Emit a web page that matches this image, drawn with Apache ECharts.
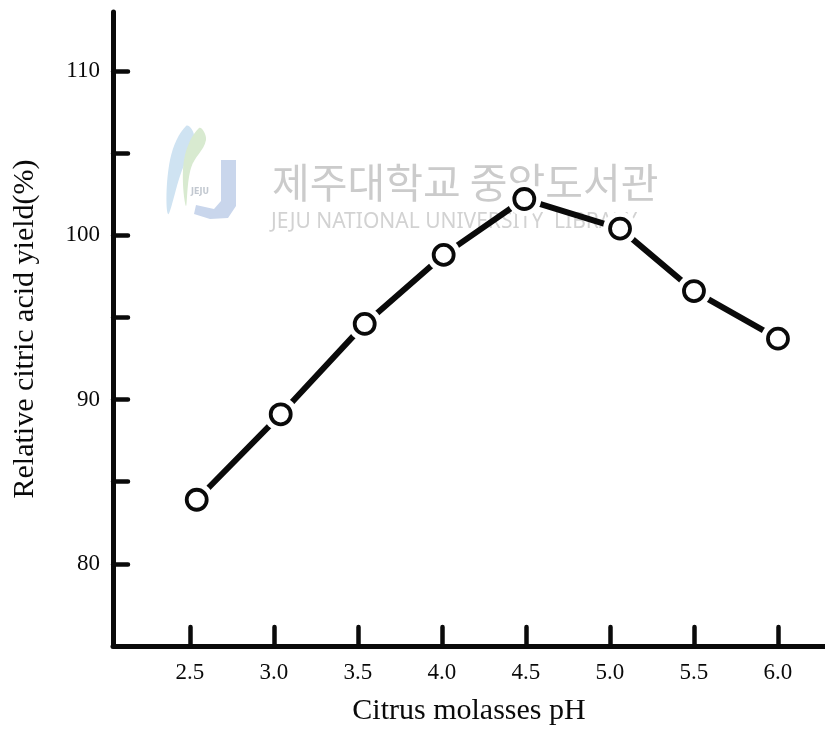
<!DOCTYPE html>
<html>
<head>
<meta charset="utf-8">
<title>Citric acid yield vs citrus molasses pH</title>
<script src="https://cdn.jsdelivr.net/npm/echarts@6/dist/echarts.min.js"></script>
<style>
  html, body { margin: 0; padding: 0; background: #ffffff; }
  #chart { width: 825px; height: 731px; }
</style>
</head>
<body>
<div id="chart"></div>
<script>
// Measured pH of each molasses sample and the relative citric acid yield (%)
const phValues = [2.54, 3.04, 3.54, 4.01, 4.49, 5.06, 5.5, 6.0];
const relativeYield = [83.9, 89.1, 94.6, 98.8, 102.2, 100.4, 96.6, 93.7];

// Axis ticks and labels
const xTickValues = [2.5, 3.0, 3.5, 4.0, 4.5, 5.0, 5.5, 6.0];
const yTickValues = [80, 85, 90, 95, 100, 105, 110];
const yLabelValues = [80, 90, 100, 110];

const xAxisTitle = 'Citrus molasses pH';
const yAxisTitle = 'Relative citric acid yield(%)';

const points = phValues.map((p, i) => [p, relativeYield[i]]);

const serif = '"Liberation Serif", "DejaVu Serif", serif';
const ink = '#0a0a0a';

const chart = echarts.init(document.getElementById('chart'), null, { renderer: 'canvas' });

chart.setOption({
  backgroundColor: '#ffffff',
  animation: false,
  grid: { left: 113, right: 0, top: 12, bottom: 84 },
  xAxis: {
    type: 'value',
    min: 2.0417,
    max: 6.28,
    splitLine: { show: false },
    axisLine: { show: true, onZero: false, lineStyle: { color: ink, width: 5, cap: 'round' } },
    axisTick: {
      show: true, inside: true, length: 19,
      customValues: xTickValues,
      lineStyle: { color: ink, width: 4.5, cap: 'round' }
    },
    axisLabel: {
      show: true, margin: 15,
      customValues: xTickValues,
      formatter: v => v.toFixed(1),
      fontFamily: serif, fontSize: 23, color: ink
    },
    name: xAxisTitle,
    nameLocation: 'middle',
    nameGap: 50,
    nameTextStyle: { fontFamily: serif, fontSize: 30, color: ink }
  },
  yAxis: {
    type: 'value',
    min: 75,
    max: 113.58,
    splitLine: { show: false },
    axisLine: { show: true, onZero: false, lineStyle: { color: ink, width: 5, cap: 'round' } },
    axisTick: {
      show: true, inside: true, length: 15,
      customValues: yTickValues,
      lineStyle: { color: ink, width: 4.5, cap: 'round' }
    },
    axisLabel: {
      show: true, margin: 13,
      customValues: yLabelValues,
      fontFamily: serif, fontSize: 23, color: ink
    },
    name: yAxisTitle,
    nameLocation: 'middle',
    nameGap: 73,
    nameRotate: 90,
    nameTextStyle: { fontFamily: serif, fontSize: 30, color: ink }
  },
  // Faint library watermark behind the plot
  graphic: [
    {
      type: 'polygon', z: 0, silent: true,
      shape: { points: [[186, 126], [170, 160], [168, 214], [180, 176], [194, 136]], smooth: 0.4 },
      style: { fill: '#cfe3f2' }
    },
    {
      type: 'polygon', z: 0, silent: true,
      shape: { points: [[199, 128], [184, 160], [186, 206], [191, 168], [206, 140]], smooth: 0.4 },
      style: { fill: '#d8ead0' }
    },
    {
      type: 'polygon', z: 0, silent: true,
      shape: { points: [[221, 160], [236, 160], [236, 206], [228, 218], [210, 219], [194, 214], [196, 205], [214, 209], [221, 201]] },
      style: { fill: '#c9d6ec' }
    },
    {
      type: 'text', z: 0, silent: true, x: 200, y: 192,
      style: { text: 'JEJU', fontFamily: '"DejaVu Sans", sans-serif', fontSize: 8, fontWeight: 'bold', fill: '#c2c8d0', align: 'center', verticalAlign: 'middle' }
    },
    {
      type: 'text', z: 0, silent: true, x: 272, y: 182,
      style: { text: '제주대학교 중앙도서관', fontFamily: '"Noto Sans CJK KR", sans-serif', fontSize: 41, fill: '#cbcbcb', align: 'left', verticalAlign: 'middle' }
    },
    {
      type: 'text', z: 0, silent: true, x: 271, y: 222,
      style: { text: 'JEJU NATIONAL UNIVERSITY  LIBRARY', fontFamily: '"Noto Sans", sans-serif', fontSize: 21, fill: '#d2d2d2', align: 'left', verticalAlign: 'middle' }
    }
  ],
  series: [
    {
      // connecting line
      type: 'line',
      data: points,
      z: 3,
      showSymbol: false,
      symbol: 'none',
      lineStyle: { color: ink, width: 6, cap: 'round' },
      silent: true
    },
    {
      // white clearance around each marker
      type: 'scatter',
      data: points,
      z: 4,
      symbol: 'circle',
      symbolSize: 34,
      itemStyle: { color: '#ffffff', opacity: 1 },
      silent: true
    },
    {
      // open circle markers
      type: 'scatter',
      data: points,
      z: 5,
      symbol: 'circle',
      symbolSize: 20,
      itemStyle: { color: '#ffffff', borderColor: ink, borderWidth: 3.8, opacity: 1 },
      silent: true
    }
  ]
});
</script>
</body>
</html>
